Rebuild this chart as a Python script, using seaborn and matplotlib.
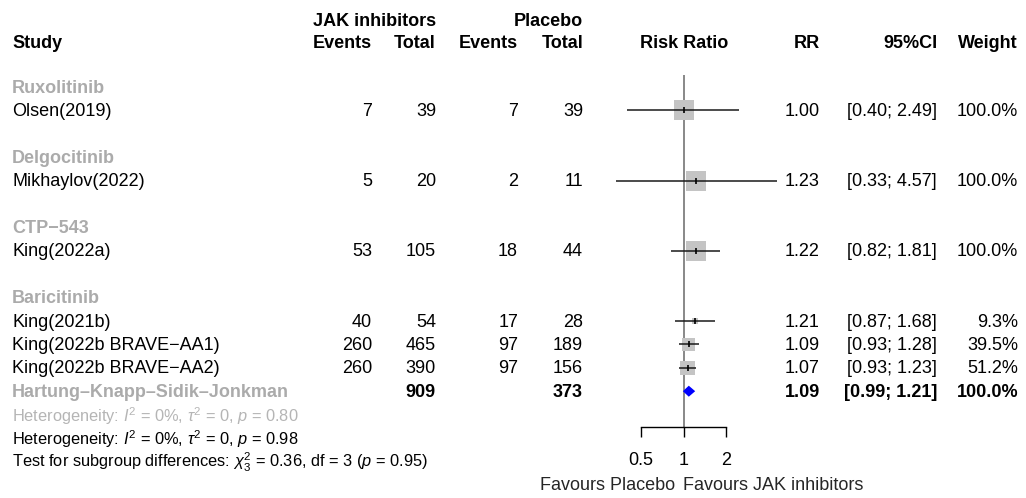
import numpy as np
import matplotlib
matplotlib.use("Agg")
import matplotlib.pyplot as plt
import matplotlib.transforms as mtransforms
from matplotlib.ticker import FixedLocator, FixedFormatter, NullLocator
import seaborn as sns

# ---------------- data ----------------
subgroups = ["Ruxolitinib", "Delgocitinib", "CTP\u2212543", "Baricitinib"]
studies = ["Olsen(2019)", "Mikhaylov(2022)", "King(2022a)", "King(2021b)",
           "King(2022b BRAVE\u2212AA1)", "King(2022b BRAVE\u2212AA2)"]
study_group = [0, 1, 2, 3, 3, 3]
events_jak = [7, 5, 53, 40, 260, 260]
total_jak = [39, 20, 105, 54, 465, 390]
events_pbo = [7, 2, 18, 17, 97, 97]
total_pbo = [39, 11, 44, 28, 189, 156]
rr = [1.00, 1.23, 1.22, 1.21, 1.09, 1.07]
ci_lo = [0.40, 0.33, 0.82, 0.87, 0.93, 0.93]
ci_hi = [2.49, 4.57, 1.81, 1.68, 1.28, 1.23]
weight = [100.0, 100.0, 100.0, 9.3, 39.5, 51.2]

pooled_label = "Hartung\u2013Knapp\u2013Sidik\u2013Jonkman"
pooled_total_jak = 909
pooled_total_pbo = 373
pooled_rr = 1.09
pooled_lo = 0.99
pooled_hi = 1.21
pooled_weight = 100.0

het_sub = r"Heterogeneity: $I^2$ = 0%, $\tau^2$ = 0, $p$ = 0.80"
het_all = r"Heterogeneity: $I^2$ = 0%, $\tau^2$ = 0, $p$ = 0.98"
test_sub = r"Test for subgroup differences: $\chi^2_3$ = 0.36, df = 3 ($p$ = 0.95)"

x_ticks = [0.5, 1, 2]
x_ticklabels = ["0.5", "1", "2"]
label_left = "Favours Placebo"
label_right = "Favours JAK inhibitors"

# ---------------- style ----------------
sns.set_theme(style="white")
plt.rcParams["font.family"] = ["Liberation Sans", "DejaVu Sans"]
plt.rcParams["mathtext.fontset"] = "custom"
plt.rcParams["mathtext.rm"] = "Liberation Sans"
plt.rcParams["mathtext.it"] = "Liberation Sans:italic"
plt.rcParams["mathtext.bf"] = "Liberation Sans:bold"
FS = 13.0
FS_MATH = 11.8
GREY_LABEL = "#ababab"
GREY_TXT = "#b5b5b5"

W, H = 1026, 498
fig = plt.figure(figsize=(W / 100, H / 100), dpi=100)
fig.patch.set_facecolor("white")

# forest axes: x 0.5..2 between px 641 and 726, y from px 75 to 427
ax = fig.add_axes([641 / W, 1 - 427 / H, (726 - 641) / W, (427 - 75) / H])
ax.set_facecolor("none")
ax.set_xscale("log", base=2)
ax.set_xlim(0.5, 2)
row0_px, row_h = 87.0, 23.4
ax.set_ylim((427 - row0_px) / row_h, (75 - row0_px) / row_h)

# row layout
rows_sub = []
rows_study = []
r = 0
for g, name in enumerate(subgroups):
    rows_sub.append(r)
    r += 1
    for i, sg in enumerate(study_group):
        if sg == g:
            rows_study.append(r)
            r += 1
    if g < len(subgroups) - 1:
        r += 1
row_pooled = r
row_het_sub = r + 1
row_het_all = r + 2
row_test = r + 3

# reference line
ax.axvline(1, color="#7f7f7f", lw=1.3, zorder=1)

# squares
sides_pt = 20 * np.sqrt(np.array(weight) / 100.0) * 0.72
sns.scatterplot(x=rr, y=rows_study, s=sides_pt ** 2, marker="s", color="#c4c4c4",
                linewidth=0, ax=ax, zorder=2, clip_on=False, legend=False)
ax.hlines(rows_study, ci_lo, ci_hi, color="#1a1a1a", lw=1.1, zorder=3, clip_on=False)
ax.scatter(rr, rows_study, marker="|", s=22, color="black", linewidths=1.2, zorder=4,
           clip_on=False)

# diamond
dh = 5.5 / row_h
ax.fill([pooled_lo, pooled_rr, pooled_hi, pooled_rr],
        [row_pooled, row_pooled - dh, row_pooled, row_pooled + dh],
        color="#0000ff", lw=0, zorder=4, clip_on=False)

# axis
for s in ["left", "top", "right"]:
    ax.spines[s].set_visible(False)
ax.spines["bottom"].set_color("black")
ax.spines["bottom"].set_linewidth(1.0)
ax.xaxis.set_major_locator(FixedLocator(x_ticks))
ax.xaxis.set_major_formatter(FixedFormatter(x_ticklabels))
ax.xaxis.set_minor_locator(NullLocator())
ax.tick_params(axis="x", direction="out", length=7.2, width=1.0, pad=11,
               labelsize=FS, colors="black", bottom=True)
ax.set_yticks([])
ax.set_xlabel("")
ax.set_ylabel("")

# favours labels
ylab = (485 - row0_px) / row_h
ax.text(0.875, ylab, label_left, ha="right", va="center", fontsize=FS, clip_on=False)
ax.text(0.985, ylab, label_right, ha="left", va="center", fontsize=FS, clip_on=False)

# ---------------- table text ----------------
tr = mtransforms.blended_transform_factory(fig.transFigure, ax.transData)
DY = 0.05


def T(xpx, row, s, ha="left", bold=False, color="black", fs=FS):
    fig.text(xpx / W, row + DY, s, transform=tr, ha=ha, va="center", fontsize=fs,
             fontweight="bold" if bold else "normal", color=color)


X_STUDY = 12
X_EJ, X_TJ, X_EP, X_TP = 372, 436, 518, 583
X_RRC = 684
X_RR, X_CI, X_W = 820, 937, 1018

h1, h2 = -2.87, -1.92
T(X_TJ, h1, "JAK inhibitors", "right", True)
T(X_TP, h1, "Placebo", "right", True)
T(X_STUDY, h2, "Study", "left", True)
T(X_EJ, h2, "Events", "right", True)
T(X_TJ, h2, "Total", "right", True)
T(X_EP, h2, "Events", "right", True)
T(X_TP, h2, "Total", "right", True)
T(X_RRC, h2, "Risk Ratio", "center", True)
T(X_RR, h2, "RR", "right", True)
T(X_CI, h2, "95%CI", "right", True)
T(X_W, h2, "Weight", "right", True)

for g, name in enumerate(subgroups):
    T(X_STUDY, rows_sub[g], name, "left", True, GREY_LABEL)

for i, row in enumerate(rows_study):
    T(X_STUDY, row, studies[i])
    T(X_EJ, row, f"{events_jak[i]}", "right")
    T(X_TJ, row, f"{total_jak[i]}", "right")
    T(X_EP, row, f"{events_pbo[i]}", "right")
    T(X_TP, row, f"{total_pbo[i]}", "right")
    T(X_RR, row, f"{rr[i]:.2f}", "right")
    T(X_CI, row, f"[{ci_lo[i]:.2f}; {ci_hi[i]:.2f}]", "right")
    T(X_W, row, f"{weight[i]:.1f}%", "right")

T(X_STUDY, row_pooled, pooled_label, "left", True, GREY_LABEL)
T(X_TJ, row_pooled, f"{pooled_total_jak}", "right", True)
T(X_TP, row_pooled, f"{pooled_total_pbo}", "right", True)
T(X_RR, row_pooled, f"{pooled_rr:.2f}", "right", True)
T(X_CI, row_pooled, f"[{pooled_lo:.2f}; {pooled_hi:.2f}]", "right", True)
T(X_W, row_pooled, f"{pooled_weight:.1f}%", "right", True)

T(X_STUDY, row_het_sub, het_sub, "left", False, GREY_TXT, FS_MATH)
T(X_STUDY, row_het_all, het_all, "left", False, "black", FS_MATH)
T(X_STUDY, row_test, test_sub, "left", False, "black", FS_MATH)

fig.savefig("out.png", dpi=100, facecolor="white")
